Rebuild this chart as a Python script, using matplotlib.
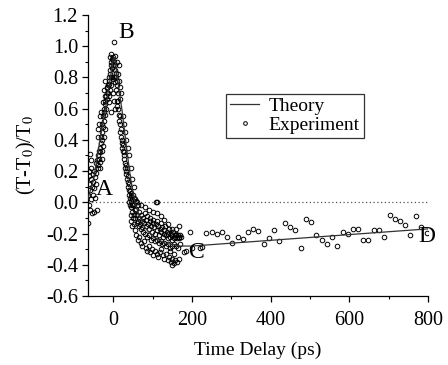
import matplotlib
matplotlib.use("Agg")
import matplotlib.pyplot as plt
from matplotlib.ticker import MultipleLocator

plt.rcParams['font.family'] = ['Liberation Serif', 'DejaVu Serif']
plt.rcParams['mathtext.fontset'] = 'stix'

# Theory curve
theory_x = [-65, -50, -34, -20, -10, 0, 4, 10, 22, 35, 45, 55, 65, 80, 100, 130, 170, 200, 800]
theory_y = [0.02, 0.15, 0.40, 0.60, 0.76, 0.92, 0.93, 0.80, 0.59, 0.32, 0.13, 0.00, -0.08, -0.16, -0.22, -0.26, -0.28, -0.28, -0.17]

# Experiment: early region (A cluster and rising edge)
exp_rise = [(-64, 0.05), (-63, -0.02), (-62, 0.12), (-61, 0.20), (-60, 0.31), (-60, 0.08), (-59, -0.05),
            (-58, 0.15), (-57, 0.02), (-56, 0.22), (-55, 0.10), (-54, -0.07), (-53, 0.18), (-52, 0.05),
            (-51, 0.13), (-50, -0.06), (-49, 0.20), (-48, 0.09), (-47, 0.16), (-46, 0.03), (-45, 0.25),
            (-44, 0.12), (-43, 0.19), (-42, -0.05), (-41, 0.27), (-40, 0.22), (-39, 0.30), (-38, 0.24),
            (-37, 0.33), (-36, 0.28), (-35, 0.35), (-34, 0.26), (-33, 0.32), (-64, -0.13), (-62, 0.17),
            (-58, 0.27), (-32, 0.38), (-31, 0.42), (-30, 0.45), (-29, 0.40), (-28, 0.50), (-27, 0.48),
            (-26, 0.55), (-25, 0.52), (-24, 0.58), (-23, 0.60), (-22, 0.56), (-21, 0.63), (-20, 0.65),
            (-19, 0.60), (-18, 0.68), (-17, 0.70), (-16, 0.66), (-15, 0.73), (-14, 0.75), (-13, 0.70),
            (-12, 0.78), (-11, 0.80), (-10, 0.76), (-9, 0.82), (-8, 0.85), (-7, 0.80), (-6, 0.88),
            (-5, 0.90), (-4, 0.86), (-3, 0.92), (-2, 0.88), (-1, 0.91), (-28, 0.33), (-26, 0.36),
            (-24, 0.42), (-22, 0.47), (-30, 0.28), (-33, 0.22),
            (-40, 0.42), (-38, 0.47), (-36, 0.50), (-34, 0.55), (-32, 0.58)]

# Experiment: peak region
exp_peak = [(0, 0.93), (1, 1.03), (2, 0.90), (3, 0.94), (4, 0.85), (5, 0.88), (6, 0.80), (7, 0.83),
            (8, 0.78), (-3, 0.80), (-5, 0.75), (0, 0.79), (2, 0.80), (4, 0.77), (6, 0.72), (8, 0.65),
            (10, 0.62), (-8, 0.72), (-10, 0.68), (-12, 0.64), (-2, 0.70), (1, 0.65), (3, 0.60), (-6, 0.58),
            (-20, 0.78), (-17, 0.74), (-24, 0.72), (-22, 0.68), (-27, 0.64), (12, 0.82), (15, 0.78),
            (18, 0.74), (19, 0.70), (16, 0.66), (14, 0.88), (10, 0.90), (-9, 0.93), (-6, 0.95)]

# Experiment: falling edge
exp_fall = [(10, 0.75), (11, 0.70), (12, 0.65), (13, 0.60), (14, 0.56), (15, 0.52), (16, 0.55),
            (17, 0.50), (18, 0.45), (19, 0.47), (20, 0.42), (21, 0.38), (22, 0.40), (23, 0.35),
            (24, 0.33), (25, 0.37), (26, 0.30), (27, 0.28), (28, 0.32), (29, 0.25), (30, 0.22),
            (31, 0.24), (32, 0.20), (33, 0.18), (34, 0.22), (35, 0.15), (36, 0.13), (37, 0.17),
            (38, 0.10), (39, 0.12), (40, 0.08), (41, 0.05), (42, 0.07), (43, 0.03), (44, 0.06),
            (45, 0.01), (46, 0.04), (47, -0.02), (48, 0.02), (50, 0.05), (52, -0.01),
            (25, 0.55), (28, 0.50), (30, 0.45), (33, 0.40), (36, 0.35), (40, 0.30), (44, 0.22),
            (48, 0.15), (52, 0.10)]

# Experiment: dense region after the zero crossing
exp_dense = [(46, -0.03), (48, -0.06), (50, -0.02), (52, -0.08), (54, -0.05), (56, -0.10), (58, -0.04),
             (60, -0.08), (62, -0.12), (64, -0.06), (66, -0.10), (68, -0.14), (70, -0.08), (72, -0.12),
             (74, -0.16), (76, -0.10), (78, -0.13), (80, -0.07), (82, -0.15), (84, -0.11), (86, -0.09),
             (88, -0.14), (90, -0.17), (92, -0.12), (94, -0.10), (96, -0.15), (98, -0.19), (100, -0.13),
             (102, -0.11), (104, -0.16), (106, -0.20), (108, -0.14), (110, -0.12), (112, -0.18),
             (114, -0.15), (116, -0.21), (118, -0.17), (120, -0.13), (122, -0.19), (124, -0.16),
             (126, -0.22), (128, -0.18), (130, -0.20), (132, -0.15), (134, -0.21), (136, -0.19),
             (138, -0.23), (140, -0.20), (142, -0.17), (144, -0.22), (146, -0.20), (148, -0.24),
             (150, -0.21), (152, -0.19), (154, -0.23), (156, -0.21), (158, -0.22), (160, -0.20),
             (162, -0.23), (164, -0.21), (166, -0.22), (168, -0.23), (170, -0.21), (160, -0.17),
             (150, -0.17), (140, -0.14), (130, -0.11), (120, -0.09), (110, -0.07), (100, -0.06),
             (90, -0.05), (80, -0.03), (70, -0.02), (60, 0.00), (55, 0.02), (108, 0.00), (112, 0.00),
             (168, -0.15), (172, -0.22),
             (60, -0.13), (65, -0.15), (70, -0.17), (75, -0.19), (80, -0.20), (85, -0.22), (90, -0.21),
             (95, -0.24), (100, -0.23), (105, -0.25), (110, -0.24), (115, -0.26), (120, -0.25),
             (125, -0.27), (130, -0.26), (135, -0.28), (140, -0.27), (145, -0.29), (150, -0.28),
             (155, -0.27), (160, -0.28), (165, -0.29), (170, -0.27), (180, -0.32), (185, -0.31),
             (199, -0.29), (220, -0.29),
             (55, -0.18), (58, -0.21), (62, -0.24), (66, -0.22), (70, -0.26), (74, -0.28), (78, -0.25),
             (82, -0.29), (86, -0.31), (90, -0.28), (94, -0.32), (98, -0.30), (102, -0.34), (106, -0.31),
             (110, -0.33), (114, -0.35), (118, -0.32), (122, -0.30), (126, -0.34), (130, -0.36),
             (134, -0.33), (138, -0.37), (142, -0.35), (146, -0.38), (150, -0.36), (154, -0.39),
             (158, -0.37), (162, -0.38), (166, -0.36), (150, -0.40), (145, -0.31), (155, -0.33),
             (42, -0.02), (44, -0.08), (46, -0.12), (48, -0.15), (50, -0.10), (52, -0.14), (40, 0.00),
             (53, 0.03), (57, 0.01), (62, -0.02)]

# Experiment: sparse tail
exp_tail = [(195, -0.19), (225, -0.286), (236, -0.194), (250, -0.19), (263, -0.20), (276, -0.19),
            (290, -0.222), (303, -0.259), (316, -0.222), (329, -0.237), (342, -0.19), (356, -0.169),
            (369, -0.185), (383, -0.265), (396, -0.228), (409, -0.179), (422, -0.248), (437, -0.13),
            (450, -0.16), (462, -0.179), (477, -0.293), (490, -0.105), (502, -0.126), (516, -0.212),
            (530, -0.244), (543, -0.265), (556, -0.222), (569, -0.278), (583, -0.19), (597, -0.20),
            (609, -0.173), (622, -0.169), (636, -0.244), (649, -0.239), (662, -0.179), (676, -0.179),
            (689, -0.222), (703, -0.083), (717, -0.105), (730, -0.122), (743, -0.143), (755, -0.212),
            (771, -0.088), (783, -0.16), (798, -0.194)]

experiment = exp_rise + exp_peak + exp_fall + exp_dense + exp_tail
exp_x = [p[0] for p in experiment]
exp_y = [p[1] for p in experiment]

fig = plt.figure(figsize=(4.48, 3.65), dpi=100)
ax = fig.add_axes([0.196, 0.189, 0.759, 0.770])

ax.axhline(0, color='#555555', linestyle=(0, (1, 2)), linewidth=0.9, zorder=1)
ax.plot(exp_x, exp_y, linestyle='none', marker='o', markersize=3.3, markerfacecolor='none',
        markeredgecolor='black', markeredgewidth=0.7, label='Experiment', zorder=2)
ax.plot(theory_x, theory_y, color='#333333', linewidth=0.9, label='Theory', zorder=3)

ax.set_xlim(-65, 800)
ax.set_ylim(-0.6, 1.2)
ax.xaxis.set_major_locator(MultipleLocator(200))
ax.xaxis.set_minor_locator(MultipleLocator(100))
ax.yaxis.set_major_locator(MultipleLocator(0.2))
ax.yaxis.set_minor_locator(MultipleLocator(0.1))
ax.yaxis.set_major_formatter(plt.FuncFormatter(lambda v, p: f"{v:.1f}"))
for s in ['top', 'right']:
    ax.spines[s].set_visible(False)
for s in ['left', 'bottom']:
    ax.spines[s].set_linewidth(0.9)
ax.tick_params(which='major', direction='out', length=4, width=0.9, labelsize=14.5)
ax.tick_params(which='minor', direction='out', length=2.5, width=0.8)
ax.tick_params(axis='y', pad=3)
ax.tick_params(axis='x', pad=7)

ax.set_xlabel('Time Delay (ps)', fontsize=14, labelpad=8)
ax.set_ylabel('(T-T$_0$)/T$_0$', fontsize=14.5, labelpad=6)

ax.text(-22, 0.08, 'A', fontsize=17, ha='center', va='center')
ax.text(32, 1.09, 'B', fontsize=17, ha='center', va='center')
ax.text(213, -0.32, 'C', fontsize=17, ha='center', va='center')
ax.text(798, -0.22, 'D', fontsize=17, ha='center', va='center')

handles, labels = ax.get_legend_handles_labels()
leg = ax.legend([handles[1], handles[0]], [labels[1], labels[0]], loc='upper left',
                bbox_to_anchor=(0.378, 0.755), fontsize=14, frameon=True, fancybox=False,
                edgecolor='black', handlelength=1.5, handletextpad=0.5, borderpad=0.2,
                labelspacing=0.05, markerscale=0.8)
leg.get_frame().set_linewidth(0.9)

fig.savefig('out.png', dpi=100)
